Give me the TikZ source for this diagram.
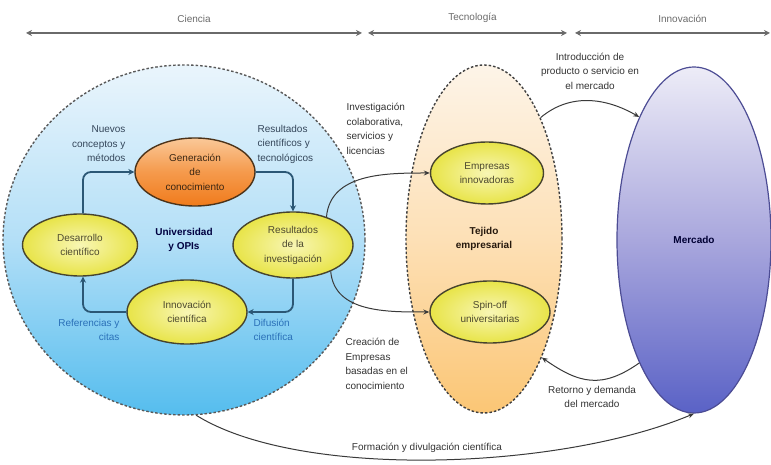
\documentclass[tikz,border=0pt]{standalone}
\usepackage{fontspec}
\setmainfont{Liberation Sans}
\usetikzlibrary{shapes.geometric,arrows.meta}
\definecolor{circtop}{HTML}{EAF5FC}
\definecolor{circmid}{HTML}{B3DFF7}
\definecolor{circbot}{HTML}{55BDEE}
\definecolor{tejtop}{HTML}{FDF4E8}
\definecolor{tejmid}{HTML}{FDE0B6}
\definecolor{tejbot}{HTML}{FBC675}
\definecolor{mertop}{HTML}{EDECF7}
\definecolor{mermid}{HTML}{A9A7DD}
\definecolor{merbot}{HTML}{5A62C6}
\definecolor{yin}{HTML}{F8F6B4}
\definecolor{yout}{HTML}{E8E448}
\definecolor{otop}{HTML}{FAC898}
\definecolor{omid}{HTML}{F59A4C}
\definecolor{obot}{HTML}{F07B1C}
\definecolor{cycc}{HTML}{2B5775}
\definecolor{linec}{HTML}{3A3A3A}
\definecolor{labc}{HTML}{333333}
\definecolor{bluelab}{HTML}{2A70B8}
\definecolor{darklab}{HTML}{34465A}
\definecolor{topc}{HTML}{6A6A6A}
\begin{document}
\begin{tikzpicture}[x=1pt,y=1pt,
  every node/.style={font=\fontsize{10}{14.5}\selectfont, text=labc},
  oval/.style={ellipse, inner sep=0pt},
  ybox/.style={oval, draw=black!65!olive, line width=1.4pt, inner color=yin, outer color=yout, text=black!60!olive, align=center},
  obox/.style={oval, draw=black!60!brown, line width=1.4pt, top color=otop, bottom color=obot, middle color=omid, text=black!70!brown, align=center},
  cyc/.style={draw=cycc, line width=1.8pt, rounded corners=8pt, -{Stealth[length=6pt,width=6pt]}},
  conn/.style={draw=linec, line width=1pt, -{Stealth[length=6pt,width=5pt]}},
  toparr/.style={draw=topc, line width=1.4pt, {Stealth[length=6pt,width=6pt]}-{Stealth[length=6pt,width=6pt]}},
  lab/.style={align=left},
]
\useasboundingbox (0,0) rectangle (771,465);

% top arrows
\coordinate (c1) at (26,432); \coordinate (c2) at (362,432);
\coordinate (t1) at (368,432); \coordinate (t2) at (567,432);
\coordinate (i1) at (575,432); \coordinate (i2) at (770,432);
\draw[toparr] (c1) -- node[above=6pt, text=topc]{Ciencia} (c2);
\draw[toparr] (t1) -- node[above=6pt, text=topc, xshift=5pt]{Tecnología} (t2);
\draw[toparr] (i1) -- node[above=6pt, text=topc, xshift=10pt]{Innovación} (i2);

% big shapes
\node[oval, minimum width=362pt, minimum height=350pt, draw=black!65, line width=1.4pt,
  dash pattern=on 2.5pt off 2pt, top color=circtop, bottom color=circbot, middle color=circmid,
  font=\fontsize{10}{14.5}\selectfont\bfseries, text=black!75!blue, align=center]
  (circ) at (184,225) {Universidad\\y OPIs};
\node[oval, minimum width=156pt, minimum height=348pt, draw=black!75, line width=1.4pt,
  dash pattern=on 2.5pt off 2pt, top color=tejtop, bottom color=tejbot, middle color=tejmid,
  font=\fontsize{10}{14.5}\selectfont\bfseries, text=black!80!brown, align=center]
  (tej) at (484,226) {Tejido\\empresarial};
\node[oval, minimum width=154pt, minimum height=346pt, draw=black!60!blue!70, line width=1.2pt,
  top color=mertop, bottom color=merbot, middle color=mermid,
  font=\fontsize{10}{14.5}\selectfont\bfseries, text=black!80!blue]
  (merc) at (694,225) {Mercado};

% inner cycle nodes
\node[obox, minimum width=120pt, minimum height=68pt] (gen) at (195,293) {Generación\\de\\conocimiento};
\node[ybox, minimum width=115pt, minimum height=62pt] (des) at (80,220) {Desarrollo\\científico};
\node[ybox, minimum width=120pt, minimum height=66pt] (res) at (293,220) {Resultados\\de la\\investigación};
\node[ybox, minimum width=120pt, minimum height=64pt] (inn) at (187,153) {Innovación\\científica};
\node[ybox, minimum width=113pt, minimum height=62pt] (emp) at (487,292) {Empresas\\innovadoras};
\node[ybox, minimum width=120pt, minimum height=62pt] (spin) at (490,153) {Spin-off\\universitarias};

% cycle arrows
\draw[cyc] ([xshift=3pt]des.north) |- (gen.west);
\draw[cyc] (gen.east) -| (res.north);
\draw[cyc] (res.south) |- (inn.east);
\draw[cyc] (inn.west) -| ([xshift=3pt]des.south);

% cycle labels
\node[align=right, anchor=east, text=darklab] (l1) at (129,321) {Nuevos\\conceptos y\\métodos};
\node[align=left, anchor=west, text=darklab] (l2) at (254,321) {Resultados\\científicos y\\tecnológicos};
\node[align=right, anchor=east, text=bluelab] (l3) at (123,135) {Referencias y\\citas};
\node[align=left, anchor=west, text=bluelab] (l4) at (250,135) {Difusión\\científica};

% connectors
\draw[conn] (res.40) to[out=85,in=180] (emp.west);
\draw[conn] (res.-35) to[out=-85,in=180] (spin.west);
\draw[conn] (tej.65) to[out=40,in=150] (merc.114);
\draw[conn] (merc.246) to[out=215,in=325, looseness=1.2] (tej.296);
\draw[conn] (circ.-86) .. controls (300,-15) and (560,-5) .. (merc.south);

% connector labels
\node[lab, anchor=west] (l5) at (343,336) {Investigación\\colaborativa,\\servicios y\\licencias};
\node[lab, anchor=west] (l6) at (342,101) {Creación de\\Empresas\\basadas en el\\conocimiento};
\node[align=center] (l7) at (590,394) {Introducción de\\producto o servicio en\\el mercado};
\node[align=center] (l8) at (592,68) {Retorno y demanda\\del mercado};
\node (l9) at (427,17) {Formación y divulgación científica};
\end{tikzpicture}
\end{document}
